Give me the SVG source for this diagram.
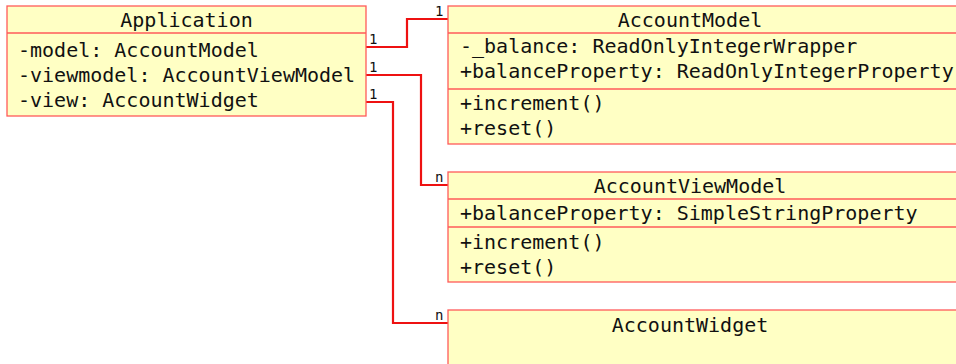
<svg xmlns="http://www.w3.org/2000/svg" width="956" height="364" viewBox="0 0 956 364">
  <style>
    .box { fill: #ffffc4; stroke: #ff5a5a; stroke-width: 1.3; }
    .sep { stroke: #ff5a5a; stroke-width: 1.3; }
    .t { font-family: "DejaVu Sans Mono", "Liberation Mono", monospace; font-size: 20px; fill: #111; }
    .c { text-anchor: middle; }
    .m { font-family: "DejaVu Sans Mono", "Liberation Mono", monospace; font-size: 14px; fill: #111; }
    .link { fill: none; stroke: #ee1111; stroke-width: 2.2; }
  </style>
  <rect width="956" height="364" fill="#ffffff"/>

  <g id="connectors">
    <polyline class="link" points="366,47 407,47 407,19 448,19"/>
    <polyline class="link" points="366,75 421,75 421,185 448,185"/>
    <polyline class="link" points="366,102 393,102 393,323 448,323"/>
    <text class="m" x="369" y="44">1</text>
    <text class="m" x="369" y="72">1</text>
    <text class="m" x="369" y="99">1</text>
    <text class="m" x="435" y="16">1</text>
    <text class="m" x="435" y="182">n</text>
    <text class="m" x="435" y="320">n</text>
  </g>

  <g id="Application">
    <rect class="box" x="7" y="6" width="359" height="110"/>
    <line class="sep" x1="7" y1="33" x2="366" y2="33"/>
    <text class="t c" x="186.5" y="27">Application</text>
    <text class="t" x="18" y="57">-model: AccountModel</text>
    <text class="t" x="18" y="82">-viewmodel: AccountViewModel</text>
    <text class="t" x="18" y="107">-view: AccountWidget</text>
  </g>

  <g id="AccountModel">
    <rect class="box" x="448" y="6" width="520" height="138"/>
    <line class="sep" x1="448" y1="33" x2="968" y2="33"/>
    <line class="sep" x1="448" y1="89" x2="968" y2="89"/>
    <text class="t c" x="690" y="27">AccountModel</text>
    <text class="t" x="460" y="53">-_balance: ReadOnlyIntegerWrapper</text>
    <text class="t" x="460" y="78">+balanceProperty: ReadOnlyIntegerProperty</text>
    <text class="t" x="460" y="110">+increment()</text>
    <text class="t" x="460" y="135">+reset()</text>
  </g>

  <g id="AccountViewModel">
    <rect class="box" x="448" y="172" width="520" height="110"/>
    <line class="sep" x1="448" y1="199" x2="968" y2="199"/>
    <line class="sep" x1="448" y1="227" x2="968" y2="227"/>
    <text class="t c" x="690" y="193">AccountViewModel</text>
    <text class="t" x="460" y="220">+balanceProperty: SimpleStringProperty</text>
    <text class="t" x="460" y="249">+increment()</text>
    <text class="t" x="460" y="274">+reset()</text>
  </g>

  <g id="AccountWidget">
    <rect class="box" x="448" y="310" width="520" height="70"/>
    <text class="t c" x="690" y="332">AccountWidget</text>
  </g>
</svg>
